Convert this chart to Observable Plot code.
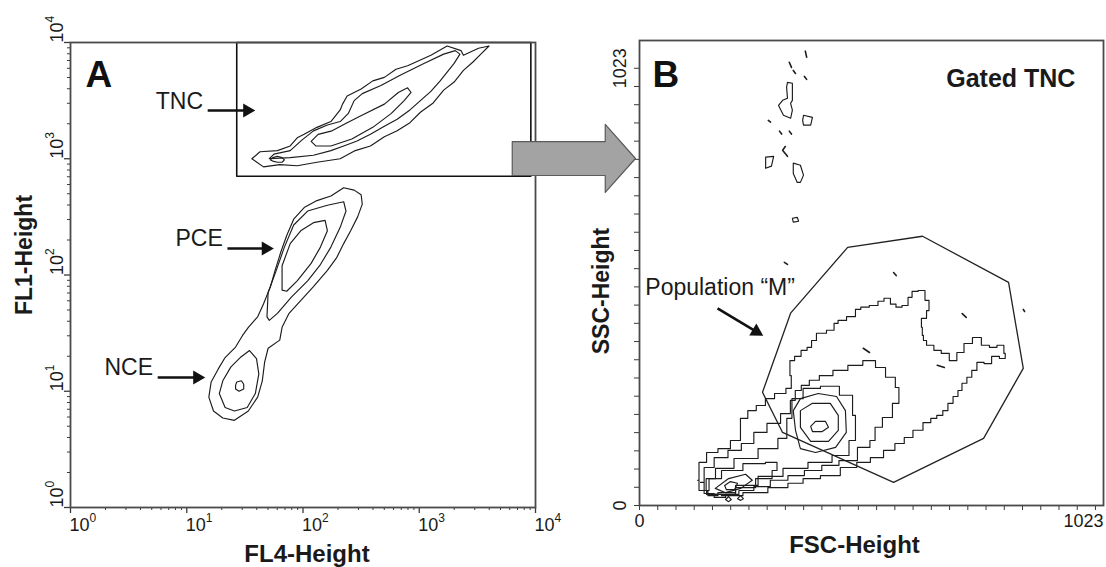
<!DOCTYPE html>
<html><head><meta charset="utf-8">
<script src="https://cdn.jsdelivr.net/npm/d3@7"></script>
<script src="https://cdn.jsdelivr.net/npm/@observablehq/plot@0.6"></script>
<style>
body{margin:0;background:#fff;}
#wrap{position:relative;width:1106px;height:567px;overflow:hidden;background:#fff;}
#wrap svg{position:absolute;top:0;}
</style></head><body><div id="wrap"></div>
<script>
// ================= Panel A data (log10 units: decades of FL4 / FL1) =================
const decadesA = [0, 1, 2, 3, 4];
const decadeBaseA = "10";
const decadeExponentA = ["0", "1", "2", "3", "4"];
const minorStepsA = [2, 3, 4, 5, 6, 7, 8, 9];

const tncOuter = [[1.56,3.00],[1.66,2.93],[1.80,2.95],[1.95,2.94],[2.12,2.97],[2.32,3.00],[2.45,3.07],[2.58,3.11],[2.70,3.19],[2.81,3.24],[2.92,3.31],[3.01,3.40],[3.12,3.48],[3.21,3.59],[3.30,3.66],[3.38,3.76],[3.46,3.83],[3.53,3.90],[3.60,3.97],[3.51,3.95],[3.38,3.89],[3.36,3.93],[3.24,3.97],[3.10,3.89],[2.90,3.80],[2.80,3.77],[2.70,3.70],[2.60,3.67],[2.50,3.60],[2.38,3.54],[2.34,3.47],[2.32,3.42],[2.24,3.32],[2.12,3.27],[2.01,3.21],[1.95,3.18],[1.89,3.11],[1.78,3.07],[1.63,3.06]];
const tncMiddle = [[1.71,3.00],[1.89,3.01],[2.09,3.03],[2.24,3.07],[2.35,3.11],[2.46,3.15],[2.58,3.21],[2.70,3.28],[2.81,3.34],[2.92,3.42],[3.01,3.50],[3.10,3.58],[3.18,3.67],[3.30,3.82],[3.35,3.90],[3.31,3.93],[3.21,3.90],[3.04,3.82],[2.84,3.72],[2.67,3.63],[2.51,3.56],[2.44,3.50],[2.39,3.39],[2.32,3.32],[2.21,3.29],[2.09,3.24],[1.99,3.16],[1.89,3.07],[1.75,3.04]];
const tncInner = [[2.24,3.11],[2.11,3.11],[2.07,3.15],[2.13,3.21],[2.25,3.24],[2.38,3.31],[2.52,3.38],[2.70,3.47],[2.82,3.57],[2.90,3.61],[2.93,3.57],[2.87,3.50],[2.76,3.39],[2.60,3.27],[2.42,3.17]];
const tncCore = [[1.72,2.99],[1.74,3.01],[1.78,3.02],[1.82,3.01],[1.84,2.99],[1.82,2.97],[1.78,2.97],[1.74,2.98]];
const pceOuter = [[2.35,2.75],[2.44,2.73],[2.50,2.69],[2.51,2.61],[2.47,2.50],[2.41,2.38],[2.35,2.27],[2.29,2.15],[2.21,2.04],[2.09,1.90],[1.98,1.78],[1.88,1.67],[1.82,1.55],[1.80,1.44],[1.70,1.37],[1.67,1.25],[1.65,1.09],[1.61,0.95],[1.53,0.83],[1.41,0.75],[1.31,0.77],[1.23,0.83],[1.19,0.95],[1.21,1.08],[1.27,1.19],[1.33,1.29],[1.42,1.38],[1.48,1.48],[1.53,1.55],[1.61,1.64],[1.66,1.75],[1.72,1.90],[1.76,2.04],[1.81,2.20],[1.86,2.34],[1.92,2.48],[2.01,2.58],[2.12,2.64],[2.24,2.68]];
const pceMiddle = [[1.69,1.64],[1.70,1.85],[1.77,2.04],[1.84,2.24],[1.92,2.43],[2.04,2.55],[2.21,2.60],[2.35,2.63],[2.37,2.55],[2.32,2.41],[2.24,2.24],[2.15,2.09],[2.04,1.95],[1.90,1.81],[1.78,1.67],[1.71,1.61]];
const pceInner = [[1.82,1.87],[1.82,2.08],[1.89,2.27],[1.98,2.38],[2.09,2.45],[2.19,2.47],[2.21,2.38],[2.15,2.24],[2.07,2.10],[1.95,1.95],[1.86,1.86]];
const nceMiddle = [[1.28,0.98],[1.33,0.86],[1.41,0.83],[1.52,0.86],[1.59,0.98],[1.62,1.15],[1.60,1.28],[1.54,1.35],[1.46,1.29],[1.38,1.21],[1.31,1.09]];
const nceInner = [[1.42,1.05],[1.43,1.08],[1.47,1.09],[1.49,1.06],[1.49,1.02],[1.45,1.00],[1.42,1.02]];

const gateA = [[1.43,2.85],[3.96,2.85],[3.96,4.0],[1.43,4.0]];
const labelTextA = ["TNC", "PCE", "NCE"];
const labelPosA = [[1.14,3.49],[1.31,2.31],[0.71,1.20]];
const pointerA = [[1.18,3.415,1.52,3.415],[1.35,2.228,1.68,2.228],[0.75,1.118,1.09,1.118]];
const transferArrow = [[3.80,3.148],[4.60,3.148],[4.60,3.295],[4.86,3.002],[4.60,2.710],[4.60,2.856],[3.80,2.856]];
const panelLetterA = {text: "A", x: 0.13, y: 3.716};

// ================= Panel B data (linear channel units 0–1023) =================
const channelLabelsB = [0, 1023];
const bOuter = [[130,59],[137,101],[164,124],[188,133],[220,152],[233,204],[253,222],[271,234],[294,250],[312,262],[345,274],[336,304],[339,339],[357,349],[368,363],[384,370],[388,386],[406,403],[433,410],[440,426],[451,433],[478,442],[491,459],[502,464],[529,468],[541,478],[556,485],[570,471],[581,464],[597,468],[608,487],[615,501],[635,503],[646,480],[653,456],[635,438],[630,417],[639,398],[635,386],[653,375],[668,363],[686,356],[704,339],[720,358],[736,379],[758,393],[776,375],[794,370],[810,375],[825,356],[816,344],[799,349],[781,332],[765,335],[749,316],[742,300],[727,286],[720,269],[709,255],[698,239],[686,222],[675,211],[659,204],[648,194],[624,176],[603,159],[585,145],[561,129],[534,112],[502,101],[473,89],[428,70],[384,63],[350,52],[316,42],[260,30],[204,23],[164,26],[137,35]];
const bLevel2 = [[137,54],[153,89],[182,112],[215,129],[242,145],[271,171],[301,192],[332,215],[345,246],[354,269],[372,281],[390,293],[417,304],[451,316],[484,328],[518,339],[541,323],[563,300],[585,276],[579,239],[556,206],[534,183],[523,152],[511,136],[467,105],[428,94],[390,82],[350,70],[316,59],[271,44],[242,35],[204,26],[182,19],[153,28]];
const bLevel3 = [[144,35],[155,63],[186,87],[238,110],[294,133],[327,157],[334,204],[350,250],[384,274],[428,279],[469,258],[487,211],[482,152],[458,117],[406,101],[350,87],[294,68],[238,47],[193,30],[159,26]];
const bLevel4 = [[350,176],[345,222],[361,250],[401,262],[442,255],[462,222],[464,171],[440,136],[395,124],[361,133]];
const bLevel5 = [[361,183],[361,222],[388,239],[428,239],[446,211],[446,176],[424,150],[384,150]];
const bLevel6 = [[384,185],[395,197],[417,197],[424,183],[410,173],[388,173]];
const bTail1 = [[148,35],[164,63],[204,82],[260,98],[305,101],[312,82],[283,63],[238,42],[193,26],[159,23]];
const bTail2 = [[170,40],[200,63],[238,73],[253,59],[227,40],[193,30]];
const bTail3 = [[191,47],[204,56],[220,52],[213,37],[195,37]];
const bSpot1 = [[193,14],[200,21],[206,14],[200,9]];
const bSpot2 = [[220,16],[227,23],[233,16],[227,12]];
const bIsland1 = [[332,990],[343,988],[343,948],[339,941],[343,925],[339,906],[323,913],[312,936],[321,948],[332,953],[330,979]];
const bIsland2 = [[368,913],[388,908],[384,890],[368,890],[366,901]];
const bIsland3 = [[283,815],[301,817],[296,794],[283,789]];
const bIsland4 = [[345,801],[361,796],[368,773],[361,756],[354,756],[345,777]];
const bIsland5 = [[343,672],[354,674],[357,665],[345,663]];
const bFragments = [
  [[372,1063],[375,1049]], [[336,1037],[341,1025]], [[345,1018],[350,1011]], [[370,1004],[375,997]],
  [[327,840],[321,831],[332,817]], [[289,901],[294,897]], [[314,876],[319,869]], [[336,876],[341,869]],
  [[325,569],[332,564]], [[570,545],[576,538]], [[724,449],[733,440]], [[861,459],[864,454]],
  [[502,368],[516,358]], [[668,328],[684,323]]
];
const gateB = [[467,604],[635,630],[828,522],[861,321],[772,157],[570,54],[321,171],[276,265],[339,450]];
const populationLabel = {text: "Population “M”", x: 13, y: 510};
const populationPointer = [[175,461,262,407]];
const gatedLabel = {text: "Gated TNC", x: 978, y: 997};
const panelLetterB = {text: "B", x: 29, y: 1007};

// ================= Rendering =================
const FONT = '"Liberation Sans", Arial, Helvetica, sans-serif';
const NARROW = '"Liberation Sans Narrow", "Liberation Sans", Arial, sans-serif';
const INK = "#1c1c1c", AX = "#3a3a3a", FRAME = "#4a4a4a", TXT = "#1a1a1a";
const pow = v => 10 ** v;
const toRows = (groups, close) => Object.entries(groups).flatMap(([id, pts]) =>
  (close ? [...pts, pts[0]] : pts).map(([x, y]) => ({id, x, y})));

const majorA = decadesA.map(pow);
const minorA = decadesA.slice(0, -1).flatMap(d => minorStepsA.map(k => k * pow(d)));
const rowsA = toRows({tncOuter, tncMiddle, tncInner, tncCore, pceOuter, pceMiddle, pceInner, nceMiddle, nceInner}, true);
const decRows = decadesA.map((d, i) => ({d, e: decadeExponentA[i]}));

const plotA = Plot.plot({
  width: 660, height: 567,
  marginLeft: 70, marginRight: 125, marginTop: 42, marginBottom: 60,
  x: {type: "log", domain: [1, 1e4]},
  y: {type: "log", domain: [1, 1e4]},
  style: {background: "transparent", fontFamily: FONT, color: TXT},
  marks: [
    Plot.axisX(minorA, {tickSize: 3, tickFormat: () => "", label: null, stroke: AX}),
    Plot.axisX(majorA, {tickSize: 6, tickFormat: () => "", label: null, stroke: AX, strokeWidth: 1.3}),
    Plot.axisY(minorA, {tickSize: 3, tickFormat: () => "", label: null, stroke: AX}),
    Plot.axisY(majorA, {tickSize: 6, tickFormat: () => "", label: null, stroke: AX, strokeWidth: 1.3}),
    Plot.line(rowsA, {x: d => pow(d.x), y: d => pow(d.y), z: "id", stroke: INK, strokeWidth: 1.15, strokeLinejoin: "round"}),
    Plot.line([...gateA, gateA[0]], {x: d => pow(d[0]), y: d => pow(d[1]), stroke: "#111", strokeWidth: 1.6}),
    Plot.frame({stroke: FRAME, strokeWidth: 1.8}),
    Plot.line([...transferArrow, transferArrow[0]], {x: d => pow(d[0]), y: d => pow(d[1]), fill: "#a3a3a3", stroke: "#5a5a5a", strokeWidth: 1.2}),
    // tick labels: base "10" plus raised exponent
    Plot.text(decRows, {x: d => pow(d.d), y: 1, text: () => decadeBaseA, textAnchor: "start", dy: 18, dx: -1, fontSize: 18, fill: TXT}),
    Plot.text(decRows, {x: d => pow(d.d), y: 1, text: "e", textAnchor: "start", dy: 11, dx: 19, fontSize: 12, fill: TXT}),
    Plot.text(decRows, {x: 1, y: d => pow(d.d), text: () => decadeBaseA, textAnchor: "start", rotate: -90, dx: -13, fontSize: 18, fill: TXT}),
    Plot.text(decRows, {x: 1, y: d => pow(d.d), text: "e", textAnchor: "start", rotate: -90, dx: -20, dy: -20, fontSize: 12, fill: TXT}),
    // axis titles
    Plot.text(["FL4-Height"], {frameAnchor: "bottom", textAnchor: "middle", lineAnchor: "middle", dy: 47, dx: 4, fontSize: 24, fontWeight: "bold", fill: TXT}),
    Plot.text(["FL1-Height"], {frameAnchor: "left", textAnchor: "middle", lineAnchor: "middle", dx: -46, dy: -20, rotate: -90, fontFamily: NARROW, fontSize: 23, fontWeight: "bold", fill: TXT}),
    // annotations
    Plot.text(labelTextA, {x: (d, i) => pow(labelPosA[i][0]), y: (d, i) => pow(labelPosA[i][1]), textAnchor: "end", fontSize: 23, fill: TXT}),
    Plot.link(pointerA, {x1: d => pow(d[0]), y1: d => pow(d[1]), x2: d => pow(d[2]), y2: d => pow(d[3]), stroke: "#111", strokeWidth: 2.6}),
    Plot.dot(pointerA, {x: d => pow(d[2]), y: d => pow(d[3]), symbol: "triangle", r: 5.2, rotate: 90, fill: "#111", stroke: "none"}),
    Plot.text([panelLetterA], {x: d => pow(d.x), y: d => pow(d.y), text: "text", textAnchor: "start", fontSize: 37, fontWeight: "bold", fill: "#111"})
  ]
});

const rowsBStep = toRows({bOuter, bLevel2, bLevel3, bTail1}, true);
const rowsB = toRows({bLevel4, bLevel5, bLevel6, bTail2, bTail3, bSpot1, bSpot2, bIsland1, bIsland2, bIsland3, bIsland4, bIsland5}, true);
const fragRows = bFragments.flatMap((pts, i) => pts.map(([x, y]) => ({id: "f" + i, x, y})));
const ticksBX = d3.range(0, 1024, 1023 / 25);
const ticksBY = d3.range(0, 1024, 1023 / 24);

const plotB = Plot.plot({
  width: 546, height: 567,
  marginLeft: 79, marginRight: 3, marginTop: 40, marginBottom: 62,
  x: {domain: [0, 1041]},
  y: {domain: [0, 1088]},
  style: {background: "transparent", fontFamily: FONT, color: TXT},
  marks: [
    Plot.axisX(ticksBX, {tickSize: 5, tickFormat: () => "", label: null, stroke: AX}),
    Plot.axisY(ticksBY, {tickSize: 5, tickFormat: () => "", label: null, stroke: AX}),
    Plot.line(rowsBStep, {x: "x", y: "y", z: "id", curve: "step", stroke: INK, strokeWidth: 1.15, strokeLinejoin: "round"}),
    Plot.line(rowsB, {x: "x", y: "y", z: "id", stroke: INK, strokeWidth: 1.15, strokeLinejoin: "round"}),
    Plot.line(fragRows, {x: "x", y: "y", z: "id", stroke: INK, strokeWidth: 1.6}),
    Plot.line([...gateB, gateB[0]], {x: d => d[0], y: d => d[1], stroke: "#222", strokeWidth: 1.3}),
    Plot.frame({stroke: FRAME, strokeWidth: 1.8}),
    Plot.text([channelLabelsB[0]], {x: d => d, y: 0, text: d => String(d), textAnchor: "middle", dy: 16, fontSize: 18, fill: TXT}),
    Plot.text([channelLabelsB[1]], {x: d => d, y: 0, text: d => String(d), textAnchor: "end", dx: 8, dy: 16, fontSize: 18, fill: TXT}),
    Plot.text(channelLabelsB, {x: 0, y: d => d, text: d => String(d), textAnchor: "middle", rotate: -90, dx: -19, fontSize: 18, fill: TXT}),
    Plot.text(["FSC-Height"], {frameAnchor: "bottom", textAnchor: "middle", lineAnchor: "middle", dy: 40, dx: -17, fontSize: 24, fontWeight: "bold", fill: TXT}),
    Plot.text(["SSC-Height"], {frameAnchor: "left", textAnchor: "middle", lineAnchor: "middle", dx: -38, dy: 18, rotate: -90, fontFamily: NARROW, fontSize: 23, fontWeight: "bold", fill: TXT}),
    Plot.text([populationLabel], {x: "x", y: "y", text: "text", textAnchor: "start", fontSize: 23, fill: TXT}),
    Plot.link(populationPointer, {x1: d => d[0], y1: d => d[1], x2: d => d[2], y2: d => d[3], stroke: "#111", strokeWidth: 2.6}),
    Plot.dot(populationPointer, {x: d => d[2], y: d => d[3], symbol: "triangle", r: 5.2, rotate: 120.5, fill: "#111", stroke: "none"}),
    Plot.text([gatedLabel], {x: "x", y: "y", text: "text", textAnchor: "end", fontSize: 25, fontWeight: "bold", fill: TXT}),
    Plot.text([panelLetterB], {x: "x", y: "y", text: "text", textAnchor: "start", fontSize: 37, fontWeight: "bold", fill: "#111"})
  ]
});

const wrap = document.getElementById("wrap");
plotB.style.left = "560px";
plotA.style.left = "0px";
wrap.appendChild(plotB);
wrap.appendChild(plotA);
</script>
</body></html>
